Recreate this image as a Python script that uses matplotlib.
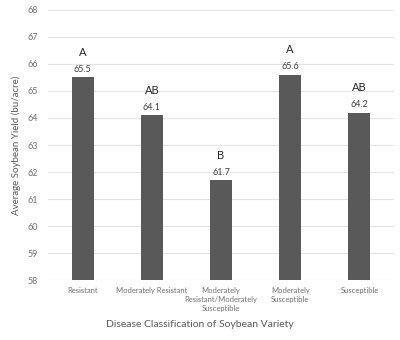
import matplotlib
matplotlib.use('Agg')
import matplotlib.pyplot as plt

categories = ['Resistant', 'Moderately Resistant',
              'Moderately\nResistant/Moderately\nSusceptible',
              'Moderately\nSusceptible', 'Susceptible']
yields = [65.5, 64.1, 61.7, 65.6, 64.2]
letters = ['A', 'AB', 'B', 'A', 'AB']

plt.rcParams['font.family'] = ['Lato', 'DejaVu Sans']

fig = plt.figure(figsize=(4, 3.4), dpi=100)
ax = fig.add_axes([0.12, 0.176, 0.865, 0.795])

x = range(len(categories))
ax.bar(x, [v - 58 for v in yields], bottom=58, width=0.32, color='#595959', zorder=3)

for i, v in enumerate(yields):
    ax.annotate('%.1f' % v, (i, v), xytext=(0, 2.5), textcoords='offset points',
                ha='center', va='bottom', fontsize=6.5, color='#404040')
    ax.annotate(letters[i], (i, v), xytext=(0, 14), textcoords='offset points',
                ha='center', va='bottom', fontsize=8, color='#262626')

ax.set_ylim(58, 68)
ax.set_xlim(-0.5, 4.5)
ax.set_yticks(range(58, 69))
ax.set_xticks(list(x))
ax.set_xticklabels(categories, fontsize=5.5, color='#707070', linespacing=1.3)
ax.tick_params(axis='y', labelsize=6.5, colors='#707070', length=0, pad=7)
ax.tick_params(axis='x', length=0, pad=5)
ax.grid(axis='y', color='#e4e4e4', linewidth=0.8, zorder=0)
for s in ax.spines.values():
    s.set_visible(False)

ax.set_ylabel('Average Soybean Yield (bu/acre)', fontsize=7, color='#595959', labelpad=5)
fig.text(0.5, 0.045, 'Disease Classification of Soybean Variety', fontsize=7.5,
         color='#595959', ha='center', va='center')

fig.savefig('out.png', dpi=100)
